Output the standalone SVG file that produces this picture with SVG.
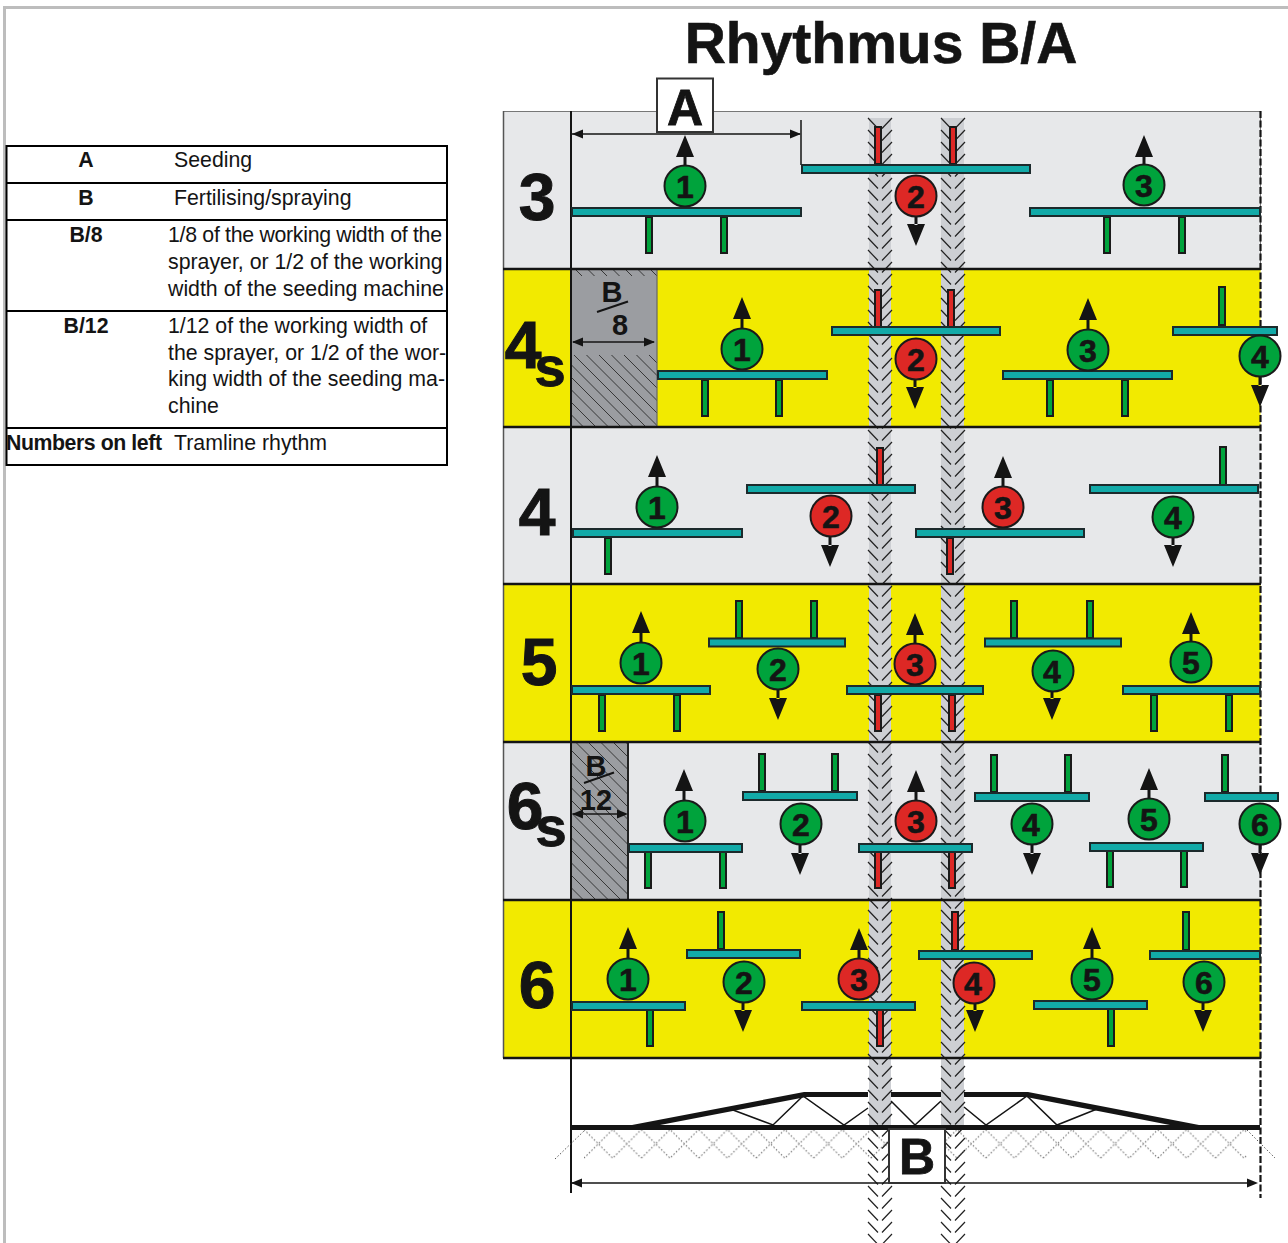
<svg xmlns="http://www.w3.org/2000/svg" xmlns:xlink="http://www.w3.org/1999/xlink" width="1288" height="1243" viewBox="0 0 1288 1243">
<style>
text{font-family:"Liberation Sans",Arial,sans-serif;fill:#141414}
.t{font-size:21.3px}
.b{font-weight:bold}
.m{text-anchor:middle}
.n{font-size:32px;font-weight:bold;text-anchor:middle;stroke:#141414;stroke-width:.6}
.big{font-size:66px;font-weight:bold;text-anchor:middle;stroke:#141414;stroke-width:1}
.s{font-size:56px;font-weight:bold;text-anchor:middle;stroke:#141414;stroke-width:1}
.lab{font-size:29px;font-weight:bold;text-anchor:middle}
.box{font-size:50px;font-weight:bold;text-anchor:middle;stroke:#141414;stroke-width:.8}
.bar{fill:#12aaa8;stroke:#1c2a2c;stroke-width:2}
.g{fill:#00a33c;stroke:#1a1a1a;stroke-width:2}
.r{fill:#dd2825;stroke:#1a1a1a;stroke-width:2}
.sep{stroke:#141414;stroke-width:2.4}
.dim{stroke:#141414;stroke-width:1.5;fill:none}
.tb{stroke:#000;stroke-width:2;fill:none}
.grey{fill:#e7e8ea}
.yel{fill:#f2ea00}
.ah{fill:#141414}
.hl{stroke:#2b2b2b;stroke-width:.9;fill:none}
.cv{stroke:#222;stroke-width:1.2;fill:none}
</style>
<defs>
<path id="up" d="M0 0L9 22H-9ZM-1.5 21H1.500V32H-1.500Z" class="ah"/>
<path id="dn" d="M0 0L-9 -22H9ZM-1.500 -21H1.500V-32H-1.500Z" class="ah"/>
<path id="ar" d="M0 0L-11 -4.500V4.500Z" class="ah"/>
<path id="al" d="M0 0L11 -4.500V4.500Z" class="ah"/>
<clipPath id="clipB8"><rect x="571" y="355" width="86" height="72"/></clipPath>
<clipPath id="clipB12"><rect x="571" y="742" width="57" height="158"/></clipPath>
<path id="c10" class="cv" d="M0 0l10 10.500m4 0l10-10.500m-24 12l10 10.500m4 0l10-10.500m-24 12l10 10.500m4 0l10-10.500m-24 12l10 10.500m4 0l10-10.500m-24 12l10 10.500m4 0l10-10.500m-24 12l10 10.500m4 0l10-10.500m-24 12l10 10.500m4 0l10-10.500m-24 12l10 10.500m4 0l10-10.500m-24 12l10 10.500m4 0l10-10.500m-24 12l10 10.500m4 0l10-10.500"/>
<g id="chevrons">
<use xlink:href="#c10" href="#c10" y="118"/><use xlink:href="#c10" href="#c10" y="238"/><use xlink:href="#c10" href="#c10" y="358"/><use xlink:href="#c10" href="#c10" y="478"/><use xlink:href="#c10" href="#c10" y="598"/><use xlink:href="#c10" href="#c10" y="718"/><use xlink:href="#c10" href="#c10" y="838"/><use xlink:href="#c10" href="#c10" y="958"/><use xlink:href="#c10" href="#c10" y="1078"/><use xlink:href="#c10" href="#c10" y="1198"/>
</g>
<pattern id="soil" patternUnits="userSpaceOnUse" x="584" y="1129.500" width="57.400" height="28.700">
<path d="M0 28.700L28.700 0L57.400 28.700M0 0L28.700 28.700L57.400 0" stroke="#555" stroke-width="1" stroke-dasharray="1.500 2" fill="none"/>
</pattern>
</defs>

<rect x="0" y="0" width="1288" height="1243" fill="#fff"/>
<path d="M4.500 1243V7.500H1288" fill="none" stroke="#bdbdbd" stroke-width="3"/>

<g id="title"><text x="881" y="63" text-anchor="middle" class="b" font-size="57" stroke="#141414" stroke-width=".6">Rhythmus B/A</text></g>

<g id="legend">
<rect x="6.500" y="146" width="440.500" height="319" class="tb"/>
<path d="M6.500 183H447M6.500 220H447M6.500 311H447M6.500 428H447" class="tb"/>
<text x="86" y="167" class="t b m">A</text><text x="174" y="167" class="t">Seeding</text>
<text x="86" y="205" class="t b m">B</text><text x="174" y="205" class="t">Fertilising/spraying</text>
<text x="86" y="242" class="t b m">B/8</text>
<text x="168" y="242" class="t" textLength="274" lengthAdjust="spacing">1/8 of the working width of the</text>
<text x="168" y="269" class="t">sprayer, or 1/2 of the working</text>
<text x="168" y="296" class="t">width of the seeding machine</text>
<text x="86" y="333" class="t b m">B/12</text>
<text x="168" y="333" class="t">1/12 of the working width of</text>
<text x="168" y="360" class="t">the sprayer, or 1/2 of the wor-</text>
<text x="168" y="386" class="t">king width of the seeding ma-</text>
<text x="168" y="413" class="t">chine</text>
<text x="6" y="450" class="t b" textLength="156" lengthAdjust="spacing">Numbers on left</text><text x="174" y="450" class="t">Tramline rhythm</text>
</g>

<g id="rows">
<rect x="503.500" y="111.500" width="757" height="157.500" class="grey" stroke="#777" stroke-width="1"/>
<rect x="503.500" y="269" width="757" height="158" class="yel"/>
<rect x="503.500" y="427" width="757" height="157" class="grey"/>
<rect x="503.500" y="584" width="757" height="158" class="yel"/>
<rect x="503.500" y="742" width="757" height="158" class="grey"/>
<rect x="503.500" y="900" width="757" height="158" class="yel"/>
<path d="M503.500 111V1058" stroke="#555" stroke-width="1.500"/>
</g>

<g id="halves">
<rect x="571" y="269" width="86" height="158" fill="#9b9da1"/>
<path class="hl" d="M575 269l7 7m5.500-7l7 7m5.500-7l7 7m5.500-7l7 7m5.500-7l7 7m5.500-7l7 7m5.500-7l7 7"/>
<path class="hl" clip-path="url(#clipB8)" d="M499 355l72 72m-59.500-72l72 72m-59.500-72l72 72m-59.500-72l72 72m-59.500-72l72 72m-59.500-72l72 72m-59.500-72l72 72m-59.500-72l72 72m-59.500-72l72 72m-59.500-72l72 72m-59.500-72l72 72m-59.500-72l72 72m-59.500-72l72 72"/>
<rect x="571" y="742" width="57" height="158" fill="#9b9da1"/>
<path class="hl" clip-path="url(#clipB12)" d="M413 742l158 158m-145.500-158l158 158m-145.500-158l158 158m-145.500-158l158 158m-145.500-158l158 158m-145.500-158l158 158m-145.500-158l158 158m-145.500-158l158 158m-145.500-158l158 158m-145.500-158l158 158m-145.500-158l158 158m-145.500-158l158 158m-145.500-158l158 158m-145.500-158l158 158m-145.500-158l158 158m-145.500-158l158 158m-145.500-158l158 158m-145.500-158l158 158"/>
<path d="M657 269V427" stroke="#666" stroke-width="1.200"/>
<path d="M628 743V899" stroke="#222" stroke-width="2"/>
</g>

<g id="tramlines">
<rect x="869" y="118" width="22" height="1007" fill="#cdcfd3"/>
<rect x="941" y="118" width="23" height="1007" fill="#cdcfd3"/>
<use xlink:href="#chevrons" href="#chevrons" x="868"/>
<use xlink:href="#chevrons" href="#chevrons" x="941"/>
</g>

<g id="frame">
<path d="M503 269H1261M503 427H1261M503 584H1261M503 742H1261M503 900H1261M503 1058H1261" class="sep"/>
<path d="M571 111V1193" stroke="#141414" stroke-width="2"/>
<path d="M1260.500 111V1198" stroke="#141414" stroke-width="2.200" stroke-dasharray="7 2.500"/>
</g>

<g id="row-labels">
<text x="537" y="220" class="big">3</text>
<text x="523" y="368" class="big">4</text><text x="550" y="386" class="s">s</text>
<text x="537" y="535" class="big">4</text>
<text x="539" y="685" class="big">5</text>
<text x="525" y="829" class="big">6</text><text x="551" y="846" class="s">s</text>
<text x="537" y="1008" class="big">6</text>
</g>

<g id="dim-A">
<path d="M572 134H800M801 120V165" class="dim"/>
<use xlink:href="#al" href="#al" x="572" y="134"/><use xlink:href="#ar" href="#ar" x="801" y="134"/>
<rect x="657" y="78.500" width="56" height="53.500" fill="#fff" stroke="#333" stroke-width="2"/>
<text x="685" y="125" class="box">A</text>
</g>

<g id="label-B8">
<text x="612" y="302" class="lab">B</text>
<path d="M597 312L628 301.500" stroke="#141414" stroke-width="2"/>
<text x="620" y="335" class="lab">8</text>
<path d="M573 342H654" class="dim"/>
<use xlink:href="#al" href="#al" x="572" y="342"/><use xlink:href="#ar" href="#ar" x="655" y="342"/>
</g>
<g id="label-B12">
<text x="596" y="776" class="lab">B</text>
<path d="M584 783L614 772.500" stroke="#141414" stroke-width="2"/>
<text x="596" y="810" class="lab">12</text>
<path d="M573 814H626" class="dim"/>
<use xlink:href="#al" href="#al" x="572" y="814"/><use xlink:href="#ar" href="#ar" x="628" y="814"/>
</g>

<!-- row 3 -->
<g id="r3-1"><use xlink:href="#up" href="#up" x="685" y="135"/><rect x="646" y="217" width="6" height="36" class="g"/><rect x="721" y="217" width="6" height="36" class="g"/><rect x="572" y="208" width="229" height="8" class="bar"/><circle cx="685" cy="186" r="20.500" class="g"/><text x="685" y="198" class="n">1</text></g>
<g id="r3-2"><use xlink:href="#dn" href="#dn" x="916" y="246"/><rect x="875" y="127" width="6" height="37" class="r"/><rect x="950" y="127" width="6" height="37" class="r"/><rect x="802" y="165" width="228" height="8" class="bar"/><circle cx="916" cy="196" r="20.500" class="r"/><text x="916" y="208" class="n">2</text></g>
<g id="r3-3"><use xlink:href="#up" href="#up" x="1144" y="135"/><rect x="1104" y="217" width="6" height="36" class="g"/><rect x="1179" y="217" width="6" height="36" class="g"/><rect x="1030" y="208" width="230" height="8" class="bar"/><circle cx="1144" cy="185" r="20.500" class="g"/><text x="1144" y="197" class="n">3</text></g>

<!-- row 4s -->
<g id="r4s-1"><use xlink:href="#up" href="#up" x="742" y="297"/><rect x="702" y="380" width="6" height="36" class="g"/><rect x="776" y="380" width="6" height="36" class="g"/><rect x="658" y="371" width="169" height="8" class="bar"/><circle cx="742" cy="349" r="20.500" class="g"/><text x="742" y="361" class="n">1</text></g>
<g id="r4s-2"><use xlink:href="#dn" href="#dn" x="915" y="409"/><rect x="875" y="290" width="6" height="37" class="r"/><rect x="948" y="290" width="6" height="37" class="r"/><rect x="832" y="327" width="168" height="8" class="bar"/><circle cx="916" cy="359" r="20.500" class="r"/><text x="916" y="371" class="n">2</text></g>
<g id="r4s-3"><use xlink:href="#up" href="#up" x="1088" y="298"/><rect x="1047" y="380" width="6" height="36" class="g"/><rect x="1122" y="380" width="6" height="36" class="g"/><rect x="1003" y="371" width="169" height="8" class="bar"/><circle cx="1088" cy="350" r="20.500" class="g"/><text x="1088" y="362" class="n">3</text></g>
<g id="r4s-4"><use xlink:href="#dn" href="#dn" x="1260" y="407"/><rect x="1219" y="287" width="6" height="38" class="g"/><rect x="1173" y="327" width="104" height="8" class="bar"/><circle cx="1260" cy="356" r="20.500" class="g"/><text x="1260" y="368" class="n">4</text></g>

<!-- row 4 -->
<g id="r4-1"><use xlink:href="#up" href="#up" x="657" y="455"/><rect x="605" y="538" width="6" height="36" class="g"/><rect x="573" y="529" width="169" height="8" class="bar"/><circle cx="657" cy="507" r="20.500" class="g"/><text x="657" y="519" class="n">1</text></g>
<g id="r4-2"><use xlink:href="#dn" href="#dn" x="830" y="567"/><rect x="877" y="448" width="6" height="37" class="r"/><rect x="747" y="485" width="168" height="8" class="bar"/><circle cx="831" cy="516" r="20.500" class="r"/><text x="831" y="528" class="n">2</text></g>
<g id="r4-3"><use xlink:href="#up" href="#up" x="1003" y="456"/><rect x="947" y="538" width="6" height="36" class="r"/><rect x="916" y="529" width="168" height="8" class="bar"/><circle cx="1003" cy="507" r="20.500" class="r"/><text x="1003" y="519" class="n">3</text></g>
<g id="r4-4"><use xlink:href="#dn" href="#dn" x="1173" y="567"/><rect x="1220" y="447" width="6" height="38" class="g"/><rect x="1090" y="485" width="168" height="8" class="bar"/><circle cx="1173" cy="517" r="20.500" class="g"/><text x="1173" y="529" class="n">4</text></g>

<!-- row 5 -->
<g id="r5-1"><use xlink:href="#up" href="#up" x="641" y="611"/><rect x="599" y="695" width="6" height="36" class="g"/><rect x="674" y="695" width="6" height="36" class="g"/><rect x="572" y="686" width="138" height="8" class="bar"/><circle cx="641" cy="663" r="20.500" class="g"/><text x="641" y="675" class="n">1</text></g>
<g id="r5-2"><use xlink:href="#dn" href="#dn" x="778" y="720"/><rect x="736" y="601" width="6" height="37" class="g"/><rect x="811" y="601" width="6" height="37" class="g"/><rect x="709" y="638.500" width="136" height="8" class="bar"/><circle cx="778" cy="669" r="20.500" class="g"/><text x="778" y="681" class="n">2</text></g>
<g id="r5-3"><use xlink:href="#up" href="#up" x="915" y="613"/><rect x="875" y="695" width="6" height="36" class="r"/><rect x="949" y="695" width="6" height="36" class="r"/><rect x="847" y="686" width="136" height="8" class="bar"/><circle cx="915" cy="664" r="20.500" class="r"/><text x="915" y="676" class="n">3</text></g>
<g id="r5-4"><use xlink:href="#dn" href="#dn" x="1052" y="720"/><rect x="1011" y="601" width="6" height="37" class="g"/><rect x="1087" y="601" width="6" height="37" class="g"/><rect x="985" y="638.500" width="136" height="8" class="bar"/><circle cx="1053" cy="671" r="20.500" class="g"/><text x="1052" y="683" class="n">4</text></g>
<g id="r5-5"><use xlink:href="#up" href="#up" x="1191" y="612"/><rect x="1151" y="695" width="6" height="36" class="g"/><rect x="1226" y="695" width="6" height="36" class="g"/><rect x="1123" y="686" width="137" height="8" class="bar"/><circle cx="1191" cy="662" r="20.500" class="g"/><text x="1191" y="674" class="n">5</text></g>

<!-- row 6s -->
<g id="r6s-1"><use xlink:href="#up" href="#up" x="684" y="769"/><rect x="645" y="852" width="6" height="36" class="g"/><rect x="720" y="852" width="6" height="36" class="g"/><rect x="629" y="844" width="113" height="8" class="bar"/><circle cx="685" cy="821" r="20.500" class="g"/><text x="685" y="833" class="n">1</text></g>
<g id="r6s-2"><use xlink:href="#dn" href="#dn" x="800" y="875"/><rect x="759" y="754" width="6" height="37" class="g"/><rect x="832" y="754" width="6" height="37" class="g"/><rect x="743" y="792" width="114" height="8" class="bar"/><circle cx="801" cy="824" r="20.500" class="g"/><text x="801" y="836" class="n">2</text></g>
<g id="r6s-3"><use xlink:href="#up" href="#up" x="916" y="770"/><rect x="875" y="852" width="6" height="36" class="r"/><rect x="949" y="852" width="6" height="36" class="r"/><rect x="859" y="844" width="113" height="8" class="bar"/><circle cx="916" cy="821" r="20.500" class="r"/><text x="916" y="833" class="n">3</text></g>
<g id="r6s-4"><use xlink:href="#dn" href="#dn" x="1032" y="875"/><rect x="991" y="755" width="6" height="37" class="g"/><rect x="1065" y="755" width="6" height="37" class="g"/><rect x="975" y="793" width="114" height="8" class="bar"/><circle cx="1032" cy="824" r="20.500" class="g"/><text x="1031" y="836" class="n">4</text></g>
<g id="r6s-5"><use xlink:href="#up" href="#up" x="1149" y="768"/><rect x="1107" y="851" width="6" height="36" class="g"/><rect x="1181" y="851" width="6" height="36" class="g"/><rect x="1090" y="843" width="113" height="8" class="bar"/><circle cx="1149" cy="819" r="20.500" class="g"/><text x="1149" y="831" class="n">5</text></g>
<g id="r6s-6"><use xlink:href="#dn" href="#dn" x="1260" y="875"/><rect x="1222" y="755" width="6" height="37" class="g"/><rect x="1205" y="793" width="73" height="8" class="bar"/><circle cx="1260" cy="824" r="20.500" class="g"/><text x="1260" y="836" class="n">6</text></g>

<!-- row 6 -->
<g id="r6-1"><use xlink:href="#up" href="#up" x="628" y="927"/><rect x="647" y="1010" width="6" height="36" class="g"/><rect x="572" y="1002" width="113" height="8" class="bar"/><circle cx="628" cy="979" r="20.500" class="g"/><text x="628" y="991" class="n">1</text></g>
<g id="r6-2"><use xlink:href="#dn" href="#dn" x="743" y="1032"/><rect x="718" y="912" width="6" height="37" class="g"/><rect x="687" y="950" width="113" height="8" class="bar"/><circle cx="744" cy="982" r="20.500" class="g"/><text x="744" y="994" class="n">2</text></g>
<g id="r6-3"><use xlink:href="#up" href="#up" x="859" y="928"/><rect x="877" y="1010" width="6" height="36" class="r"/><rect x="802" y="1002" width="113" height="8" class="bar"/><circle cx="859" cy="979" r="20.500" class="r"/><text x="859" y="991" class="n">3</text></g>
<g id="r6-4"><use xlink:href="#dn" href="#dn" x="975" y="1032"/><rect x="952" y="912" width="6" height="38" class="r"/><rect x="919" y="951" width="113" height="8" class="bar"/><circle cx="974" cy="983" r="20.500" class="r"/><text x="973" y="995" class="n">4</text></g>
<g id="r6-5"><use xlink:href="#up" href="#up" x="1092" y="927"/><rect x="1108" y="1009" width="6" height="37" class="g"/><rect x="1034" y="1001" width="113" height="8" class="bar"/><circle cx="1092" cy="979" r="20.500" class="g"/><text x="1092" y="991" class="n">5</text></g>
<g id="r6-6"><use xlink:href="#dn" href="#dn" x="1203" y="1032"/><rect x="1183" y="912" width="6" height="38" class="g"/><rect x="1150" y="951" width="110" height="8" class="bar"/><circle cx="1204" cy="982" r="20.500" class="g"/><text x="1204" y="994" class="n">6</text></g>

<g id="soil-layer">
<rect x="584" y="1129.500" width="663" height="28.700" fill="url(#soil)"/>
<path d="M555 1159L585 1130M1247 1130L1275 1158" stroke="#555" stroke-width="1" stroke-dasharray="1.500 2" fill="none"/>
</g>

<g id="sprayer">
<path d="M632 1125L804 1092H868V1097H806L660 1125ZM891 1092H941V1097H891ZM964 1092H1028L1199 1125H1170L1026 1097H964Z" fill="#141414"/>
<path d="M571 1127.500H1260" stroke="#141414" stroke-width="5"/>
<path d="M733 1110L773 1125L803 1096L844 1125L868 1108M891 1101L915 1125L941 1101M964 1107L986 1125L1027 1096L1057 1125L1097 1109" fill="none" stroke="#141414" stroke-width="1.500"/>
</g>

<g id="dim-B">
<path d="M572 1183H1248" class="dim"/>
<use xlink:href="#al" href="#al" x="571" y="1183"/><use xlink:href="#ar" href="#ar" x="1258" y="1183"/>
<rect x="889" y="1129" width="56" height="54" fill="#fff" stroke="#333" stroke-width="2"/>
<text x="917" y="1174" class="box">B</text>
</g>
</svg>
